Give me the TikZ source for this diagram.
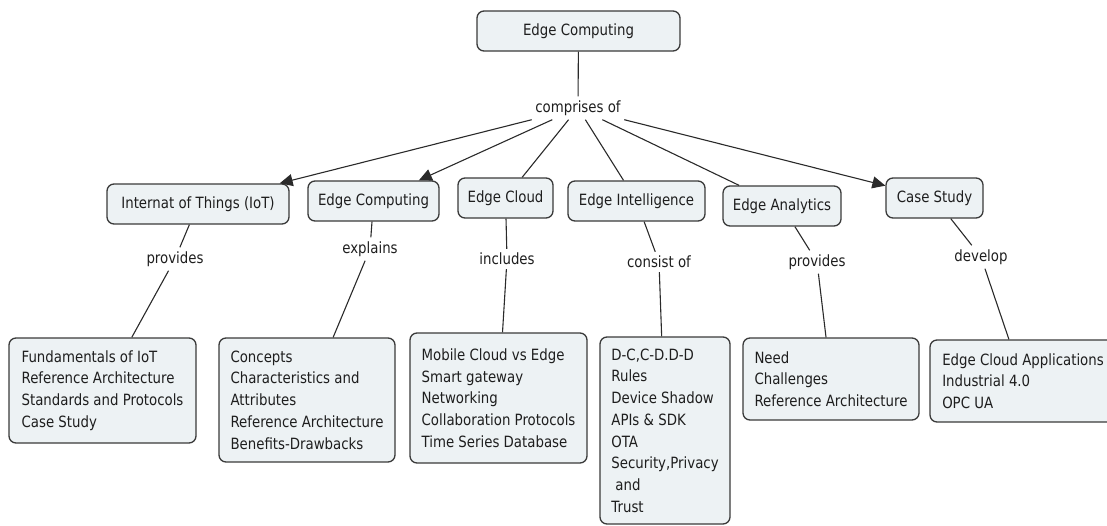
\documentclass[tikz,border=0pt]{standalone}
\usepackage{fontspec}
\setmainfont{DejaVu Sans}[FakeStretch=0.86]
\usetikzlibrary{arrows.meta}
\definecolor{boxfill}{HTML}{EDF2F4}
\definecolor{boxline}{HTML}{3A3A3A}
\definecolor{lineclr}{HTML}{2A2A2A}
\definecolor{txtclr}{HTML}{1E1E1E}
\tikzset{
  box/.style={draw=boxline, fill=boxfill, rounded corners=7pt, line width=1.3pt,
    inner sep=0pt, align=center, text=txtclr, minimum height=40pt},
  listbox/.style={box, align=left},
  lab/.style={inner sep=4pt, text=txtclr},
  conn/.style={draw=lineclr, line width=1.1pt},
  arr/.style={conn, -{Triangle[length=13pt,width=12pt]}}
}
\begin{document}
\begin{tikzpicture}[x=1pt,y=-1pt, font=\fontsize{15.5}{21.7}\selectfont]
\useasboundingbox (0,0) rectangle (1107,525);
\clip (0,0) rectangle (1107,525);

% top
\node[box, minimum width=203pt] (top) at (578.5,31) {Edge Computing};
\node[lab] (comp) at (578,108) {comprises of};

% second level
\node[box, minimum width=182pt] (iot) at (198,204) {Internat of Things (IoT)};
\node[box, minimum width=131pt] (ec) at (373.5,201) {Edge Computing};
\node[box, minimum width=95pt] (cloud) at (505.5,198) {Edge Cloud};
\node[box, minimum width=137pt] (intel) at (636.5,201) {Edge Intelligence};
\node[box, minimum width=118pt] (anal) at (782,206) {Edge Analytics};
\node[box, minimum width=97pt] (cs) at (934.5,198) {Case Study};

% labels
\node[lab] (provA) at (175,259) {provides};
\node[lab] (expl) at (370,249) {explains};
\node[lab] (incl) at (507,259) {includes};
\node[lab] (cons) at (659,262) {consist of};
\node[lab] (provB) at (817,262) {provides};
\node[lab] (dev) at (981,257) {develop};

% bottom lists
\node[listbox, minimum width=187pt, minimum height=105pt] (b1) at (102.5,390.5)
  {Fundamentals of IoT\\Reference Architecture\\Standards and Protocols\\Case Study};
\node[listbox, minimum width=176pt, minimum height=124pt] (b2) at (307,400)
  {Concepts\\Characteristics and\\Attributes\\Reference Architecture\\Benefits-Drawbacks};
\node[listbox, minimum width=177pt, minimum height=130pt] (b3) at (498.5,398)
  {Mobile Cloud vs Edge\\Smart gateway\\Networking\\Collaboration Protocols\\Time Series Database};
\node[listbox, minimum width=130pt, minimum height=187pt] (b4) at (665,430.5)
  {D-C,C-D.D-D\\Rules\\Device Shadow\\APIs \& SDK\\OTA\\Security,Privacy\\\hspace*{4pt}and\\Trust};
\node[listbox, minimum width=176pt, minimum height=82pt] (b5) at (831,379)
  {Need\\Challenges\\Reference Architecture};
\node[listbox, minimum width=186pt, minimum height=82pt] (b6) at (1023,381)
  {Edge Cloud Applications\\Industrial 4.0\\OPC UA};

% connectors
\draw[conn] (top) -- (comp);
\draw[arr] (comp) -- (iot);
\draw[arr] (comp) -- (ec);
\draw[conn] (comp) -- (cloud);
\draw[conn] (comp) -- (intel);
\draw[conn] (comp) -- (anal);
\draw[arr] (comp) -- (cs);

\draw[conn] (iot) -- (provA);
\draw[conn] (provA) -- (b1);
\draw[conn] (ec) -- (expl);
\draw[conn] (expl) -- (b2);
\draw[conn] (cloud) -- (incl);
\draw[conn] (incl) -- (b3);
\draw[conn] (intel) -- (cons);
\draw[conn] (cons) -- (b4);
\draw[conn] (anal) -- (provB);
\draw[conn] (provB) -- (b5);
\draw[conn] (cs) -- (dev);
\draw[conn] (dev) -- (b6);
\end{tikzpicture}
\end{document}
